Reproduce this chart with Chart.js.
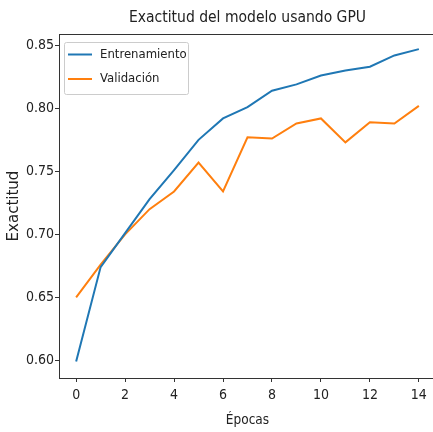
<!DOCTYPE html>
<html>
<head>
<meta charset="utf-8">
<script src="https://cdn.jsdelivr.net/npm/chart.js@4"></script>
<style>
  body { margin: 0; overflow: hidden; background: #fff; }
  #wrap { width: 436px; height: 432px; }
</style>
</head>
<body>
<div id="wrap"><canvas id="accChart"></canvas></div>
<script>
// epochs 0..14
const epochs = [0, 1, 2, 3, 4, 5, 6, 7, 8, 9, 10, 11, 12, 13, 14];
const trainAcc = [0.599, 0.674, 0.701, 0.728, 0.751, 0.775, 0.792, 0.801, 0.814, 0.819, 0.826, 0.830, 0.833, 0.842, 0.847];
const valAcc = [0.650, 0.676, 0.700, 0.720, 0.734, 0.757, 0.734, 0.777, 0.776, 0.788, 0.792, 0.773, 0.789, 0.788, 0.802];
const seriesNames = ['Entrenamiento', 'Validación'];
const yTicks = [0.60, 0.65, 0.70, 0.75, 0.80, 0.85];

const cond = "'DejaVu Sans Condensed', 'DejaVu Sans', sans-serif";

// title, full frame and legend box drawn like matplotlib
const mplExtras = {
    id: 'mplExtras',
    afterDraw(chart) {
        const ctx = chart.ctx;
        const a = chart.chartArea;
        ctx.save();
        ctx.strokeStyle = '#333';
        ctx.lineWidth = 1;
        ctx.strokeRect(a.left + 0.5, a.top + 0.5, a.right - a.left, a.bottom - a.top);

        ctx.fillStyle = '#222';
        ctx.font = '15.5px ' + cond;
        ctx.textAlign = 'center';
        ctx.textBaseline = 'middle';
        ctx.fillText('Exactitud del modelo usando GPU', (a.left + a.right) / 2, 18);

        // legend
        const bx = 64.5, by = 42.5, bw = 124, bh = 52;
        ctx.fillStyle = 'rgba(255,255,255,0.8)';
        ctx.strokeStyle = '#ccc';
        ctx.beginPath();
        ctx.roundRect(bx, by, bw, bh, 2);
        ctx.fill();
        ctx.stroke();
        ctx.font = '13px ' + cond;
        ctx.textAlign = 'left';
        chart.data.datasets.forEach((ds, i) => {
            const y = 54.5 + i * 24.5;
            ctx.strokeStyle = ds.borderColor;
            ctx.lineWidth = 2;
            ctx.beginPath();
            ctx.moveTo(68, y);
            ctx.lineTo(92, y);
            ctx.stroke();
            ctx.fillStyle = '#222';
            ctx.fillText(ds.label, 100, y);
        });
        ctx.restore();
    }
};

new Chart(document.getElementById('accChart'), {
    type: 'line',
    data: {
        labels: epochs,
        datasets: [
            {
                label: seriesNames[0],
                data: epochs.map((e, i) => ({ x: e, y: trainAcc[i] })),
                borderColor: '#1f77b4',
                borderWidth: 2,
                pointRadius: 0,
                tension: 0
            },
            {
                label: seriesNames[1],
                data: epochs.map((e, i) => ({ x: e, y: valAcc[i] })),
                borderColor: '#ff7f0e',
                borderWidth: 2,
                pointRadius: 0,
                tension: 0
            }
        ]
    },
    options: {
        responsive: true,
        maintainAspectRatio: false,
        animation: false,
        layout: { padding: { top: 34, left: 0, right: 0, bottom: 0 } },
        plugins: {
            legend: { display: false },
            title: { display: false },
            tooltip: { enabled: false }
        },
        scales: {
            x: {
                type: 'linear',
                min: -0.7,
                max: 14.7,
                afterFit: (scale) => { scale.height = 54; },
                grid: { drawOnChartArea: false, drawTicks: true, tickLength: 4, color: '#333' },
                border: { display: true, color: '#333' },
                ticks: {
                    stepSize: 2,
                    includeBounds: false,
                    padding: 5,
                    color: '#222',
                    font: { family: cond, size: 14 }
                },
                title: {
                    display: true,
                    text: 'Épocas',
                    color: '#222',
                    padding: { top: 0, bottom: 3 },
                    font: { family: cond, size: 13.5 }
                }
            },
            y: {
                min: 0.586,
                max: 0.859,
                afterFit: (scale) => { scale.width = 59; },
                grid: { drawOnChartArea: false, drawTicks: true, tickLength: 4, color: '#333' },
                border: { display: true, color: '#333' },
                afterBuildTicks: (scale) => { scale.ticks = yTicks.map(v => ({ value: v })); },
                ticks: {
                    padding: 1,
                    color: '#222',
                    font: { family: cond, size: 14 },
                    callback: (v) => v.toFixed(2)
                },
                title: {
                    display: true,
                    text: 'Exactitud',
                    color: '#222',
                    padding: 5,
                    font: { family: "'DejaVu Sans'", size: 15 }
                }
            }
        }
    },
    plugins: [mplExtras]
});
</script>
</body>
</html>
